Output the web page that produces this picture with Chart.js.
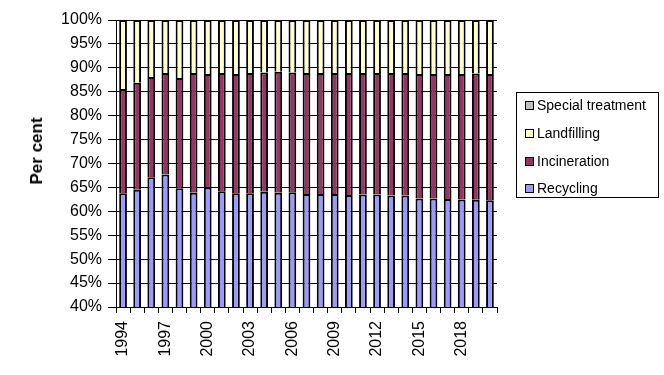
<!DOCTYPE html>
<html>
<head>
<meta charset="utf-8">
<script src="https://cdn.jsdelivr.net/npm/chart.js@4"></script>
<style>
    body { margin: 0; background: #fff; }
    #wrap { position: relative; width: 664px; height: 375px; font-family: 'Liberation Sans', Arial, sans-serif; }
    #ytitle { position: absolute; left: 37px; top: 151px; transform: translate(-50%, -50%) rotate(-90deg); font-weight: bold; font-size: 17px; white-space: nowrap; }
    #legend { position: absolute; left: 516px; top: 92px; width: 141px; height: 104px; border: 1px solid #000; font-size: 14px; }
    #legend div { position: absolute; left: 8px; height: 16px; line-height: 16px; white-space: nowrap; }
    #legend span { display: inline-block; width: 7px; height: 7px; border: 1px solid #000; margin-right: 3px; vertical-align: 0px; }
</style>
</head>
<body>
<div id="wrap">
    <canvas id="chart" width="664" height="375"></canvas>
    <div id="ytitle">Per cent</div>
    <div id="legend"></div>
</div>
<script>
const years = ['1994','1995','1996','1997','1998','1999','2000','2001','2002','2003','2004','2005','2006',
    '2007','2008','2009','2010','2011','2012','2013','2014','2015','2016','2017','2018','2019','2020'];

const recycling = [63.8, 64.5, 67.1, 67.7, 64.8, 63.9, 65.0, 64.2, 63.8, 63.8, 64.1, 63.9, 64.0,
    63.6, 63.6, 63.6, 63.4, 63.5, 63.5, 63.3, 63.3, 62.7, 62.7, 62.6, 62.5, 62.4, 62.3];
const incineration = [21.8, 22.4, 21.0, 21.2, 23.1, 25.0, 23.7, 24.7, 24.9, 25.1, 24.9, 25.3, 25.0,
    25.3, 25.3, 25.3, 25.5, 25.4, 25.4, 25.6, 25.6, 26.0, 26.0, 26.1, 26.2, 26.4, 26.4];
const landfilling = [14.4, 13.1, 11.9, 11.1, 12.1, 11.1, 11.3, 11.1, 11.3, 11.1, 11.0, 10.8, 11.0,
    11.1, 11.1, 11.1, 11.1, 11.1, 11.1, 11.1, 11.1, 11.3, 11.3, 11.3, 11.3, 11.2, 11.3];
const specialTreatment = [0, 0, 0, 0, 0, 0, 0, 0, 0, 0, 0, 0, 0,
    0, 0, 0, 0, 0, 0, 0, 0, 0, 0, 0, 0, 0, 0];

const series = [
    { label: 'Recycling', data: recycling, color: '#9999ff' },
    { label: 'Incineration', data: incineration, color: '#993366' },
    { label: 'Landfilling', data: landfilling, color: '#ffffcc' },
    { label: 'Special treatment', data: specialTreatment, color: '#c0c0c0' }
];

const font = { family: "'Liberation Sans', Arial, sans-serif", size: 16 };

const chart = new Chart(document.getElementById('chart'), {
    type: 'bar',
    data: {
        labels: years,
        datasets: series.map((s) => ({
            label: s.label,
            data: s.data,
            backgroundColor: s.color,
            borderColor: '#000',
            borderWidth: 2,
            barPercentage: 0.55,
            categoryPercentage: 1
        }))
    },
    options: {
        responsive: false,
        animation: false,
        layout: { padding: { top: 20, right: 167, bottom: 0, left: 0 } },
        plugins: { legend: { display: false }, tooltip: { enabled: false } },
        scales: {
            x: {
                stacked: true,
                offset: true,
                afterFit: (scale) => { scale.height = 68; },
                border: { color: '#000', width: 1 },
                grid: { offset: true, drawOnChartArea: false, color: '#000', tickLength: 6 },
                ticks: {
                    autoSkip: false,
                    minRotation: 90,
                    maxRotation: 90,
                    padding: 8,
                    color: '#000',
                    font: font,
                    callback: (v, i) => i % 3 == 0 ? years[i] : ''
                }
            },
            y: {
                stacked: true,
                min: 40,
                max: 100,
                afterFit: (scale) => { scale.width = 116; },
                border: { color: '#000', width: 1 },
                grid: { color: '#000', tickLength: 8 },
                ticks: {
                    stepSize: 5,
                    padding: 6,
                    color: '#000',
                    font: font,
                    callback: (v) => v + '%'
                }
            }
        }
    }
});

// legend box, listed top to bottom like the stack
const lg = document.getElementById('legend');
const rows = [105, 133, 161, 188];
series.slice().reverse().forEach((s, i) => {
    let d = document.createElement('div');
    d.style.top = (rows[i] - 92 - 9) + 'px';
    d.innerHTML = `<span style="background:${s.color}"></span>${s.label}`;
    lg.appendChild(d);
});
</script>
</body>
</html>
